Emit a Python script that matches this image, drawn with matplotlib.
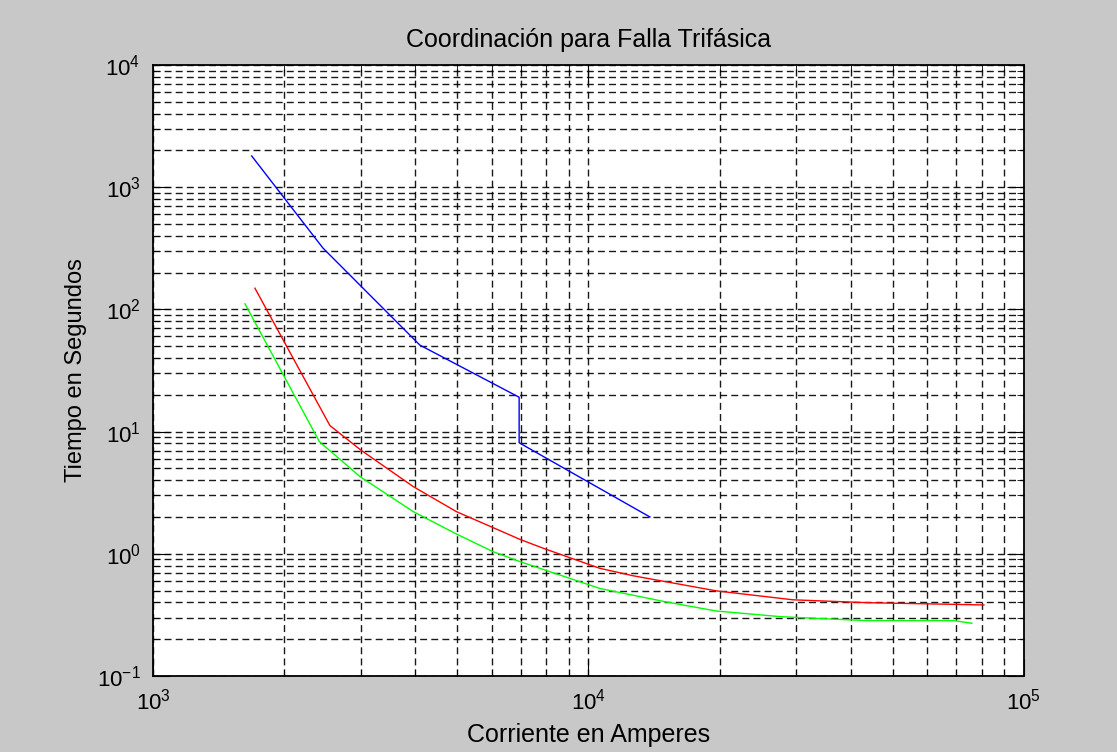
import numpy as np
from matplotlib import pyplot as plt

# curvas de tiempo-corriente
i_azul = [1685, 2455, 4100, 6930, 6930, 13840]
t_azul = [1800, 318, 51, 19.1, 8.1, 2.0]

i_rojo = [1714, 2548, 3000, 3962, 4977, 6966, 7870, 10620, 12680, 19670, 29500, 43500, 68000, 80900]
t_rojo = [149, 11.2, 7.06, 3.54, 2.21, 1.31, 1.11, 0.76, 0.66, 0.497, 0.42, 0.398, 0.386, 0.381]

i_verde = [1626, 2410, 2990, 3962, 4977, 6040, 6966, 10620, 15000, 19670, 27540, 33400, 43500, 68900, 75900]
t_verde = [111, 8.27, 4.27, 2.21, 1.45, 1.04, 0.862, 0.52, 0.405, 0.34, 0.306, 0.296, 0.284, 0.284, 0.27]

plt.rcParams['font.family'] = ['Liberation Sans', 'DejaVu Sans']

fig = plt.figure(figsize=(11.17, 7.52), dpi=100, facecolor='#c8c8c8')
ax = fig.add_axes([0.137, 0.1011, 0.7797, 0.8125])
ax.set_facecolor('white')

ax.plot(i_azul, t_azul, color='#0000ff', lw=1.0)
ax.plot(i_rojo, t_rojo, color='#ff0000', lw=1.0)
ax.plot(i_verde, t_verde, color='#00ff00', lw=1.0)

ax.set_xscale('log')
ax.set_yscale('log')
ax.set_xlim(1e3, 1e5)
ax.set_ylim(1e-1, 1e4)

ax.grid(True, which='both', color='black', linestyle=(0, (5, 3)), linewidth=1.0, alpha=0.9)
ax.tick_params(which='both', direction='in', top=True, right=True, colors='black')
ax.tick_params(which='major', length=12, labelsize=16, pad=9)
ax.tick_params(which='minor', length=5)
for s in ax.spines.values():
    s.set_linewidth(1.3)

ax.set_title('Coordinación para Falla Trifásica', fontsize=18, pad=13)
ax.set_xlabel('Corriente en Amperes', fontsize=18, labelpad=6)
ax.set_ylabel('Tiempo en Segundos', fontsize=17, labelpad=7)

fig.savefig('out.png', dpi=100, facecolor=fig.get_facecolor())
